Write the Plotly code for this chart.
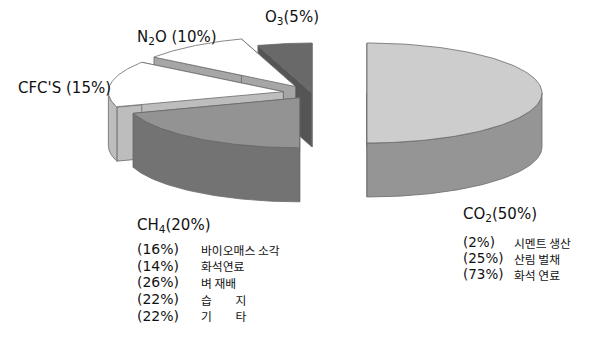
import numpy as np
import plotly.graph_objects as go

# Greenhouse gas shares (%), drawn clockwise from 12 o'clock
gases = ["CO<sub>2</sub>(50%)", "CH<sub>4</sub>(20%)", "CFC'S (15%)", "N<sub>2</sub>O (10%)", "O<sub>3</sub>(5%)"]
shares = [50, 20, 15, 10, 5]

# Sources of CH4 and CO2 (%)
ch4_pct = [16, 14, 26, 22, 22]
ch4_sources = ["바이오매스 소각", "화석연료", "벼 재배", "습　　지", "기　　타"]
co2_pct = [2, 25, 73]
co2_sources = ["시멘트 생산", "산림 벌채", "화석 연료"]

# Pseudo-3D pie geometry (screen units)
CX, CY = 312.0, 93.0
RX, RY = 175.0, 50.0
DEPTH = 54.0
pulls = [55, 21, 29, 28, 0]
top_colors = ["#cdcdcd", "#939393", "#ffffff", "#ffffff", "#696969"]
wall_colors = ["#959595", "#737373", "#bdbdbd", "#a6a6a6", "#555555"]
EDGE = "#6a6a6a"

bounds = np.concatenate([[0], np.cumsum(shares)]) / sum(shares) * 360.0


def pt(cx, cy, th, dz=0.0):
    t = np.radians(th)
    return cx + RX * np.sin(t), cy - RY * np.cos(t) + dz


def faces(a0, a1, pull):
    mid = np.radians((a0 + a1) / 2)
    cx = CX + pull * np.sin(mid)
    cy = CY - pull * np.cos(mid) * RY / RX
    out = []
    # radial walls
    for a in (a0, a1):
        ex, ey = pt(cx, cy, a)
        out.append(("wall", [cx, ex, ex, cx, cx], [cy, ey, ey + DEPTH, cy + DEPTH, cy]))
    # outer wall, front-facing part only
    lo, hi = max(a0, 90.0), min(a1, 270.0)
    if hi > lo:
        th = np.linspace(lo, hi, 80)
        xt, yt = pt(cx, cy, th)
        xs = np.concatenate([xt, xt[::-1], xt[:1]])
        ys = np.concatenate([yt, (yt + DEPTH)[::-1], yt[:1]])
        out.append(("wall", xs, ys))
    # top surface
    th = np.linspace(a0, a1, 120)
    xt, yt = pt(cx, cy, th)
    out.append(("top", np.concatenate([[cx], xt, [cx]]), np.concatenate([[cy], yt, [cy]])))
    return out


fig = go.Figure()
order = [4, 3, 2, 1, 0]  # back to front
for i in order:
    for kind, xs, ys in faces(bounds[i], bounds[i + 1], pulls[i]):
        col = top_colors[i] if kind == "top" else wall_colors[i]
        fig.add_trace(go.Scatter(
            x=xs, y=ys, mode="lines", fill="toself", fillcolor=col,
            line=dict(color=EDGE, width=0.8), hoverinfo="skip", showlegend=False))

LATIN = "DejaVu Sans, Liberation Sans, sans-serif"
KOREAN = "Noto Sans CJK KR, sans-serif"


def label(x, y, text, size=15, family=LATIN):
    fig.add_annotation(x=x, y=y, text=text, showarrow=False, xanchor="left",
                       yanchor="middle", align="left",
                       font=dict(family=family, size=size, color="#111111"),
                       xref="x", yref="y")


# slice labels
label(263, 17, gases[4])
label(135, 37, gases[3])
label(16, 88, gases[2])
label(135, 225, gases[1])
label(461, 214, gases[0])

# CH4 sources
for k, (p, s) in enumerate(zip(ch4_pct, ch4_sources)):
    y = 249 + k * 16.7
    label(135, y, f"({p}%)", size=14)
    label(199, y, s, size=11.8, family=KOREAN)

# CO2 sources
for k, (p, s) in enumerate(zip(co2_pct, co2_sources)):
    y = 242 + k * 16.0
    label(461, y, f"({p}%)", size=13.5)
    label(512, y, s, size=11.8, family=KOREAN)

fig.update_layout(
    width=616, height=349, margin=dict(l=0, r=0, t=0, b=0),
    paper_bgcolor="white", plot_bgcolor="white",
    xaxis=dict(range=[0, 616], visible=False, fixedrange=True),
    yaxis=dict(range=[349, 0], visible=False, fixedrange=True),
)
fig.write_html("out.html")
